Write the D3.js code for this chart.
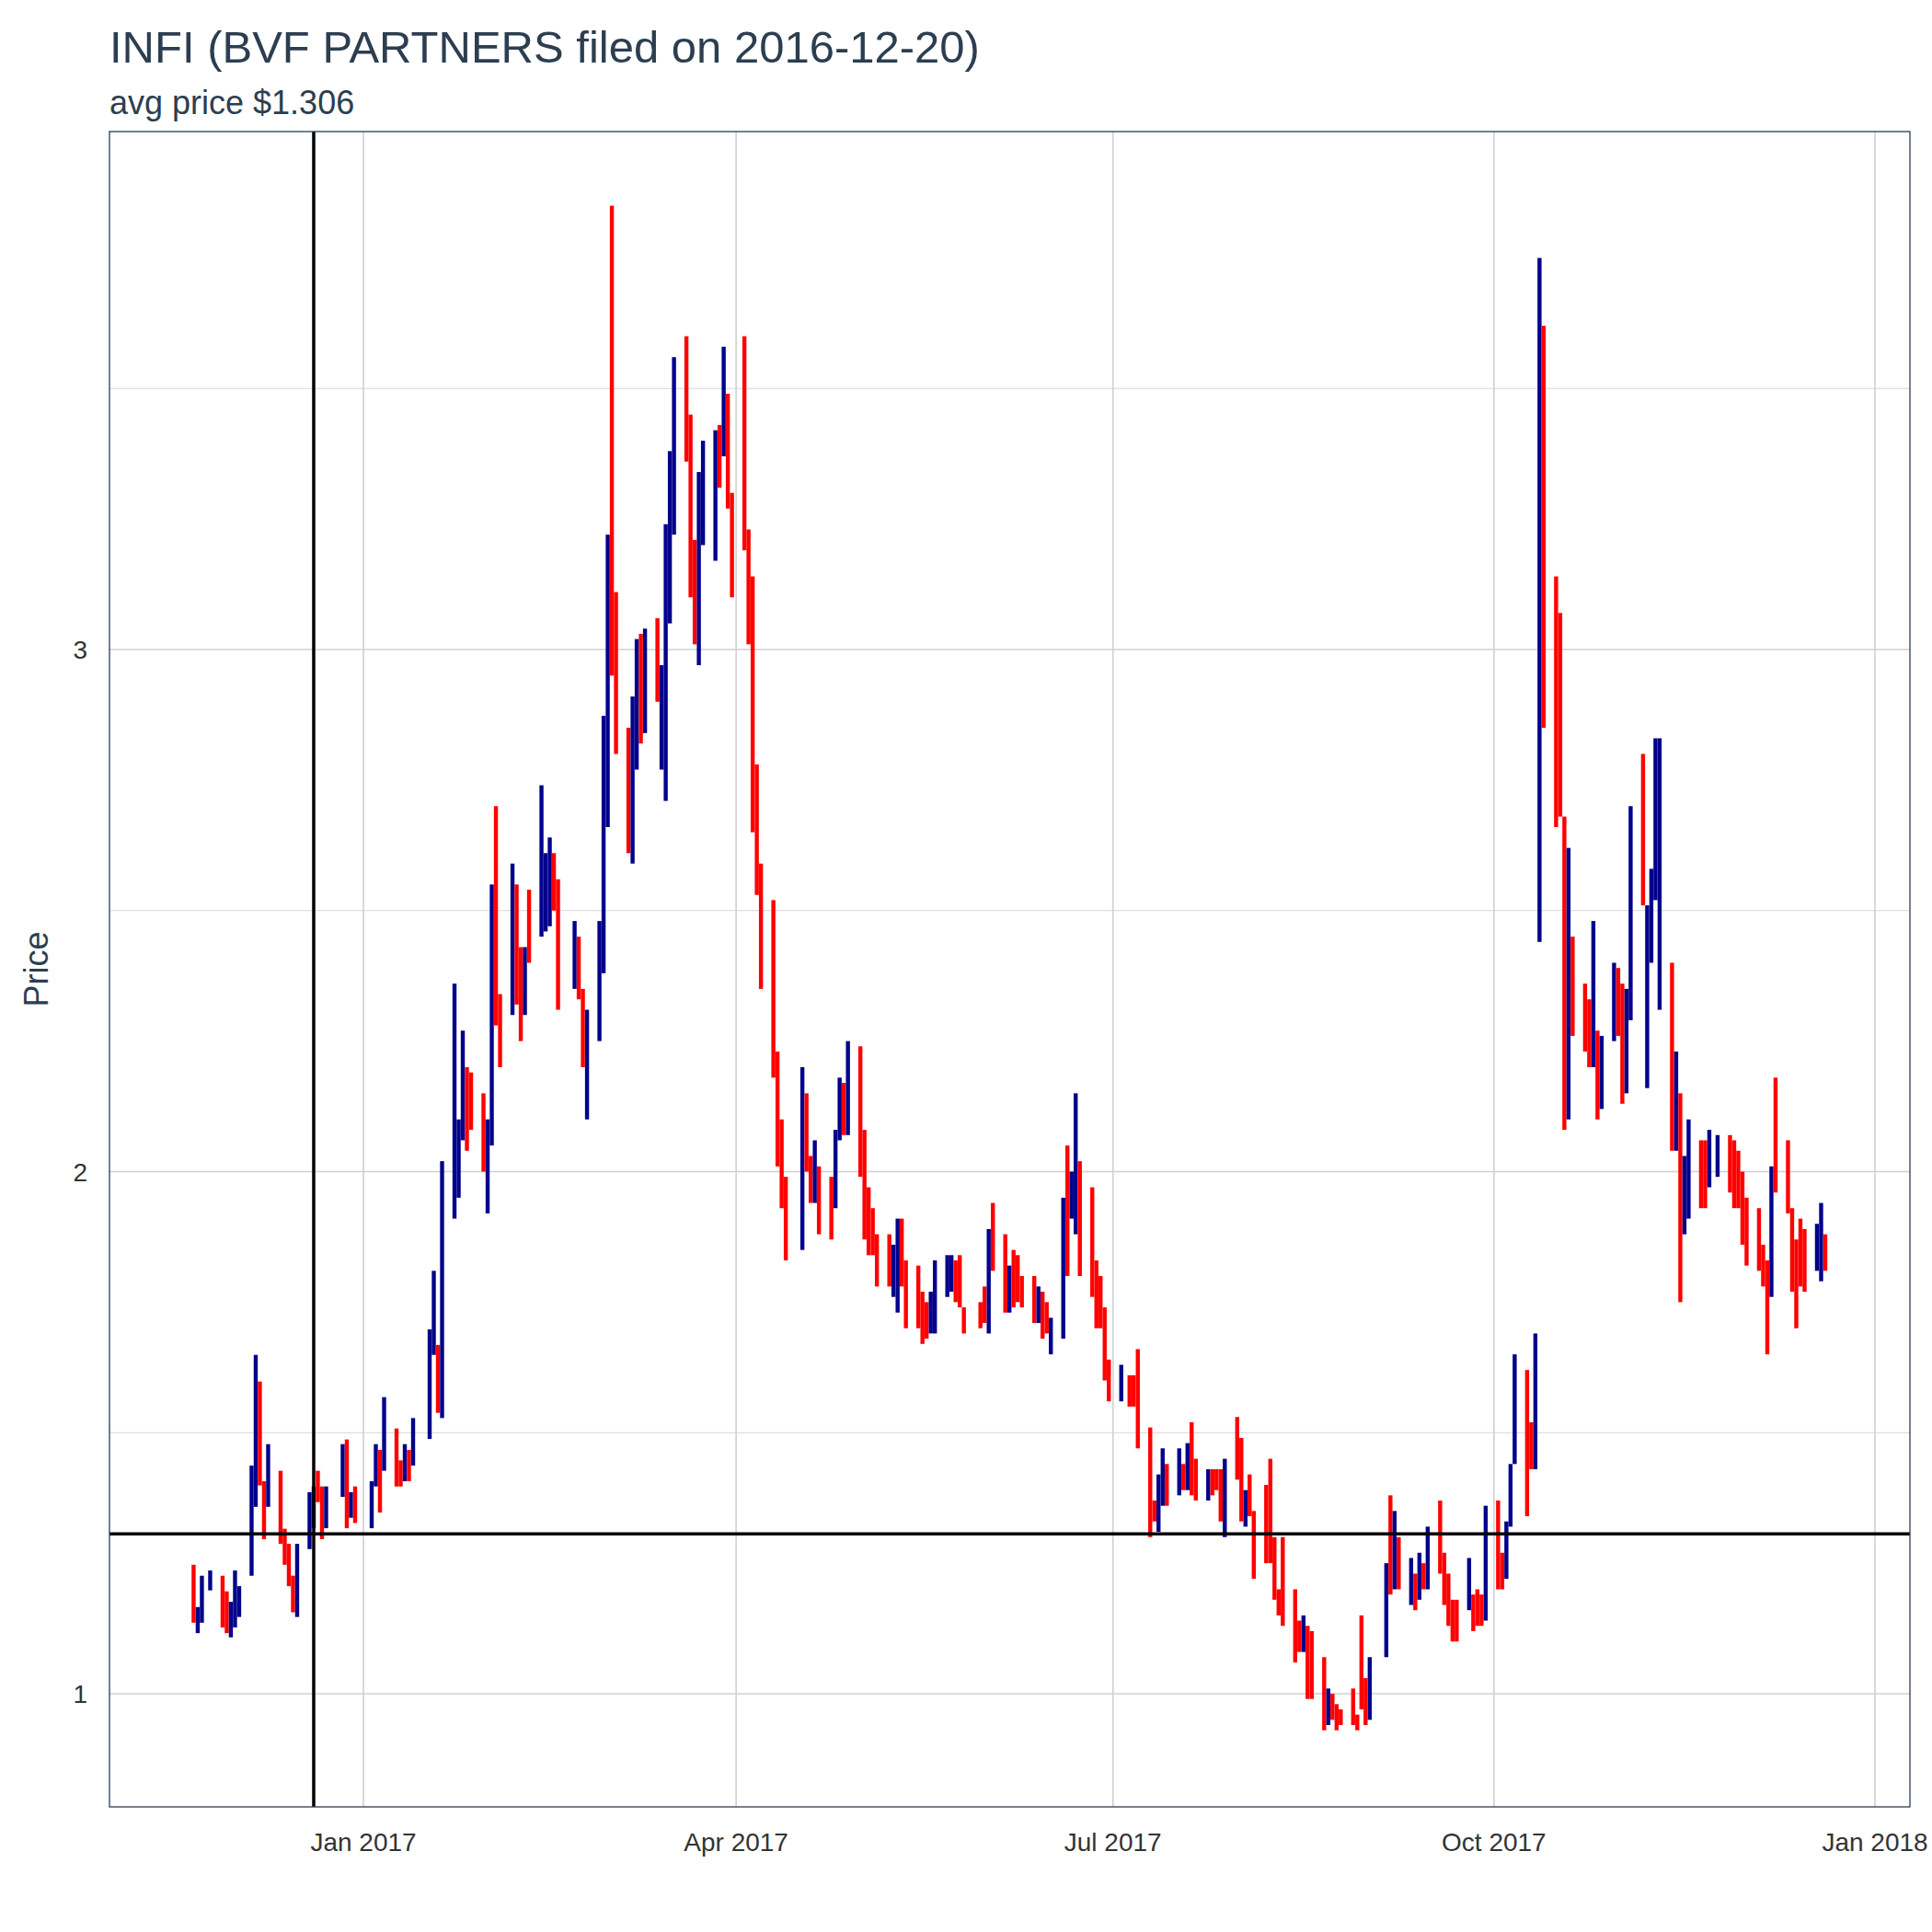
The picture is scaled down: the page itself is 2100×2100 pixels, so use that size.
<!DOCTYPE html>
<html>
<head>
<meta charset="utf-8">
<script src="https://cdn.jsdelivr.net/npm/d3@7"></script>
<style>
  html, body { margin: 0; padding: 0; background: #fff; }
  text { font-family: "Liberation Sans", Arial, sans-serif; }
</style>
</head>
<body>
<div id="content" style="width:2100px;height:2100px"></div>
<script>
// trading-day ranges: high, low, direction (u = up / d = down)
var highs = [
  1.247,1.166,1.226,1.236, 1.226,1.196,1.176,1.236,1.206, 1.437,1.649,1.598,1.407,1.478,
  1.427,1.316,1.287,1.226,1.287, 1.386,1.397,1.427,1.397,1.397, 1.478,1.487,1.386,1.397,
  1.407,1.478,1.467,1.568, 1.508,1.447,1.478,1.467,1.528, 1.698,1.81,1.668,2.02,
  2.36,2.10,2.27,2.20,2.19, 2.15,2.10,2.55,2.70,2.34, 2.59,2.55,2.43,2.43,2.54,
  2.74,2.61,2.64,2.61,2.56, 2.48,2.45,2.35,2.31, 2.48,2.873,3.22,3.85,3.11,
  2.85,2.91,3.02,3.03,3.04, 3.06,2.97,3.24,3.38,3.56, 3.60,3.45,3.21,3.34,3.40,
  3.42,3.43,3.58,3.49,3.30, 3.60,3.23,3.14,2.78,2.59, 2.52,2.23,2.10,1.99,
  2.20,2.15,2.03,2.06,2.01, 1.99,2.08,2.18,2.17,2.25, 2.24,2.08,1.97,1.93,1.88,
  1.88,1.86,1.91,1.91,1.83, 1.82,1.77,1.75,1.77,1.83, 1.84,1.84,1.83,1.84,1.74,
  1.75,1.78,1.89,1.94, 1.88,1.82,1.85,1.84,1.80, 1.80,1.78,1.77,1.75,1.72,
  1.95,2.05,2.00,2.15,2.02, 1.97,1.83,1.80,1.74,1.64, 1.63,1.61,1.61,1.66,
  1.51,1.37,1.42,1.47,1.44, 1.47,1.44,1.48,1.52,1.45, 1.43,1.43,1.43,1.43,1.45,
  1.53,1.49,1.39,1.42,1.35, 1.40,1.45,1.30,1.20,1.30, 1.20,1.14,1.15,1.13,1.12,
  1.07,1.01,1.00,0.98,0.97, 1.01,0.96,1.15,1.03,1.07, 1.25,1.38,1.35,1.30,
  1.26,1.23,1.27,1.25,1.32, 1.37,1.27,1.23,1.18,1.18, 1.26,1.19,1.20,1.19,1.36,
  1.37,1.27,1.33,1.44,1.65, 1.62,1.52,1.69,3.75,3.62, 3.14,3.07,2.68,2.62,2.45,
  2.36,2.33,2.48,2.27,2.26, 2.40,2.39,2.36,2.35,2.70, 2.80,2.51,2.58,2.83,2.83,
  2.40,2.23,2.15,2.03,2.10, 2.06,2.06,2.08,2.07, 2.07,2.06,2.04,2.00,1.95,
  1.93,1.86,1.83,2.01,2.18, 2.06,1.93,1.87,1.91,1.89, 1.90,1.94,1.88
];
var lows = [
  1.136,1.116,1.136,1.198, 1.127,1.116,1.108,1.127,1.147, 1.226,1.358,1.399,1.296,1.358,
  1.287,1.247,1.206,1.156,1.147, 1.277,1.317,1.367,1.296,1.317, 1.377,1.317,1.337,1.327,
  1.317,1.397,1.347,1.427, 1.397,1.397,1.407,1.407,1.437, 1.488,1.649,1.538,1.528,
  1.91,1.95,2.06,2.04,2.08, 2.00,1.92,2.05,2.28,2.20, 2.30,2.32,2.25,2.30,2.40,
  2.45,2.46,2.47,2.50,2.31, 2.35,2.33,2.20,2.10, 2.25,2.38,2.66,2.95,2.80,
  2.61,2.59,2.77,2.82,2.84, 2.90,2.77,2.71,3.05,3.22, 3.36,3.10,3.01,2.97,3.20,
  3.17,3.31,3.37,3.27,3.10, 3.19,3.01,2.65,2.53,2.35, 2.18,2.01,1.93,1.83,
  1.85,2.00,1.94,1.94,1.88, 1.87,1.93,2.06,2.07,2.07, 1.99,1.87,1.84,1.84,1.78,
  1.78,1.76,1.73,1.78,1.70, 1.70,1.67,1.68,1.69,1.69, 1.76,1.77,1.75,1.74,1.69,
  1.70,1.71,1.69,1.81, 1.73,1.73,1.74,1.75,1.74, 1.71,1.71,1.68,1.69,1.65,
  1.68,1.80,1.91,1.88,1.80, 1.76,1.70,1.70,1.60,1.56, 1.56,1.55,1.55,1.47,
  1.30,1.33,1.31,1.36,1.36, 1.38,1.39,1.39,1.38,1.37, 1.37,1.38,1.39,1.33,1.30,
  1.41,1.33,1.32,1.34,1.22, 1.25,1.25,1.18,1.15,1.13, 1.06,1.08,1.08,0.99,0.99,
  0.93,0.94,0.95,0.93,0.94, 0.94,0.93,0.97,0.94,0.95, 1.07,1.19,1.20,1.20,
  1.17,1.16,1.18,1.20,1.20, 1.23,1.17,1.13,1.10,1.10, 1.16,1.12,1.13,1.13,1.14,
  1.20,1.20,1.22,1.32,1.44, 1.34,1.43,1.43,2.44,2.85, 2.66,2.68,2.08,2.10,2.26,
  2.23,2.20,2.20,2.10,2.12, 2.25,2.26,2.13,2.15,2.29, 2.51,2.16,2.40,2.52,2.31,
  2.04,2.04,1.75,1.88,1.91, 1.93,1.93,1.97,1.99, 1.96,1.93,1.93,1.86,1.82,
  1.81,1.78,1.65,1.76,1.96, 1.92,1.77,1.70,1.78,1.77, 1.81,1.79,1.81
];
var dirs = [
  "duuu","dduuu","uuddu","ddddu","uuddu","udud","uudu","ddudu","uudu",
  "uuudd","duudd","uddud","uuudd","uddu","uuudd","duudu","duuuu","ddduu","ududd",
  "ddddd","dddd","uddud","duudu","ddddd","duudd","ddduu","uuddd","ddud",
  "duddd","duddu","uduud","ddddd","uddd","dduud","ududd","udddu","ddudd","ddddd",
  "ddudd","duddd","ddddu","udud","ududu","ddddd","udddu","dduuu","dduud",
  "dddud","ddudu","udduu","duuuu","duduu","dduu","ddddd","dddud","ddddd","uud"
].join("").split("");

var firstDay = "2016-11-21", lastDay = "2017-12-20";
var holidays = ["2016-11-24","2016-12-26","2017-01-02","2017-01-16","2017-02-20",
  "2017-04-14","2017-05-29","2017-07-04","2017-09-04","2017-11-23"];
var filedOn = "2016-12-20", avgPrice = 1.306;
var yTicks = [1, 2, 3], yMinor = [1.5, 2.5, 3.5];
var xTicks = ["2017-01-01","2017-04-01","2017-07-01","2017-10-01","2018-01-01"];

var parse = d3.utcParse("%Y-%m-%d"), fmt = d3.utcFormat("%Y-%m-%d");
var days = d3.utcDay.range(parse(firstDay), d3.utcDay.offset(parse(lastDay), 1))
  .filter(function(d) { var w = d.getUTCDay(); return w > 0 && w < 6 && holidays.indexOf(fmt(d)) < 0; });
var n = Math.min(days.length, highs.length, lows.length, dirs.length);
var bars = d3.range(n).map(function(i) {
  return {date: days[i], high: highs[i], low: lows[i], up: dirs[i] === "u"};
});

var W = 2100, H = 2100;
var panel = {left: 119, right: 2076, top: 143, bottom: 1964};
var ink = "#2c3e50";

var svg = d3.select("#content").append("svg")
  .attr("width", W).attr("height", H).attr("viewBox", [0, 0, W, H]);

var x = d3.scaleUtc().domain([parse("2017-01-01"), parse("2018-01-01")]).range([395, 2038]);
var y = d3.scaleLinear().domain([1, 3]).range([1841, 706]);

svg.append("defs").append("clipPath").attr("id", "clip")
  .append("rect").attr("x", panel.left).attr("y", panel.top)
  .attr("width", panel.right - panel.left).attr("height", panel.bottom - panel.top);

var grid = svg.append("g");
grid.selectAll(".ymin").data(yMinor).enter().append("line")
  .attr("x1", panel.left).attr("x2", panel.right)
  .attr("y1", function(d) { return y(d); }).attr("y2", function(d) { return y(d); })
  .attr("stroke", "#d6d6d6").attr("stroke-width", 1.2);
grid.selectAll(".ymaj").data(yTicks).enter().append("line")
  .attr("x1", panel.left).attr("x2", panel.right)
  .attr("y1", function(d) { return y(d); }).attr("y2", function(d) { return y(d); })
  .attr("stroke", "#d0d0d0").attr("stroke-width", 1.6);
grid.selectAll(".xmaj").data(xTicks).enter().append("line")
  .attr("y1", panel.top).attr("y2", panel.bottom)
  .attr("x1", function(d) { return x(parse(d)); }).attr("x2", function(d) { return x(parse(d)); })
  .attr("stroke", "#d0d0d0").attr("stroke-width", 1.6);

var plot = svg.append("g").attr("clip-path", "url(#clip)");
plot.selectAll("rect.bar").data(bars).enter().append("rect")
  .attr("class", "bar")
  .attr("x", function(d) { return x(d.date) - 2.2; })
  .attr("width", 4.4)
  .attr("y", function(d) { return y(d.high); })
  .attr("height", function(d) { return Math.max(1, y(d.low) - y(d.high)); })
  .attr("fill", function(d) { return d.up ? "darkblue" : "red"; });

plot.append("line")
  .attr("x1", x(parse(filedOn))).attr("x2", x(parse(filedOn)))
  .attr("y1", panel.top).attr("y2", panel.bottom)
  .attr("stroke", "#000").attr("stroke-width", 3.5);
plot.append("line")
  .attr("x1", panel.left).attr("x2", panel.right)
  .attr("y1", y(avgPrice)).attr("y2", y(avgPrice))
  .attr("stroke", "#000").attr("stroke-width", 3.5);

svg.append("rect")
  .attr("x", panel.left).attr("y", panel.top)
  .attr("width", panel.right - panel.left).attr("height", panel.bottom - panel.top)
  .attr("fill", "none").attr("stroke", ink).attr("stroke-width", 1.3);

svg.selectAll(".ylab").data(yTicks).enter().append("text")
  .attr("x", 95).attr("y", function(d) { return y(d) + 10; })
  .attr("text-anchor", "end").attr("font-size", 28).attr("fill", "#333")
  .text(function(d) { return d; });
var xfmt = d3.utcFormat("%b %Y");
svg.selectAll(".xlab").data(xTicks).enter().append("text")
  .attr("x", function(d) { return x(parse(d)); }).attr("y", 2012)
  .attr("text-anchor", "middle").attr("font-size", 28).attr("fill", "#333")
  .text(function(d) { return xfmt(parse(d)); });

svg.append("text")
  .attr("transform", "translate(52," + ((panel.top + panel.bottom) / 2) + ") rotate(-90)")
  .attr("text-anchor", "middle").attr("font-size", 36).attr("fill", ink)
  .text("Price");
svg.append("text").attr("x", 119).attr("y", 68)
  .attr("font-size", 49).attr("fill", ink)
  .text("INFI (BVF PARTNERS filed on 2016-12-20)");
svg.append("text").attr("x", 119).attr("y", 124)
  .attr("font-size", 36).attr("fill", ink)
  .text("avg price $1.306");
</script>
</body>
</html>
